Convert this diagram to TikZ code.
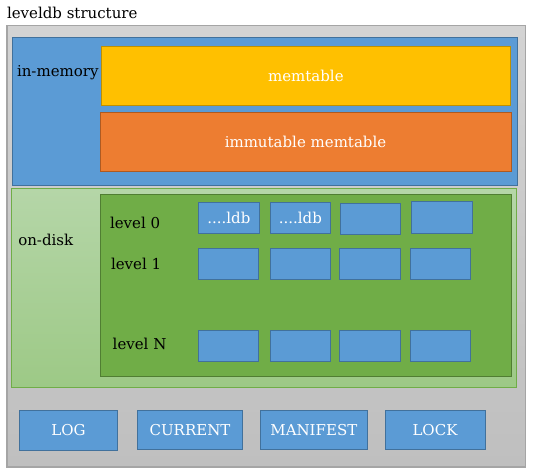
\documentclass[tikz,border=0pt]{standalone}
\usepackage{fontspec}
\setmainfont{DejaVu Serif}
\definecolor{bgtop}{HTML}{D3D3D3}
\definecolor{bgbot}{HTML}{BFBFBF}
\definecolor{bgline}{HTML}{A5A5A5}
\definecolor{blu}{HTML}{5B9BD5}
\definecolor{bluline}{HTML}{41719C}
\definecolor{yel}{HTML}{FFC000}
\definecolor{yelline}{HTML}{BF9000}
\definecolor{ora}{HTML}{ED7D31}
\definecolor{oraline}{HTML}{AE5A21}
\definecolor{lgtop}{HTML}{B5D6A8}
\definecolor{lgbot}{HTML}{9DC986}
\definecolor{lgline}{HTML}{70AD47}
\definecolor{dg}{HTML}{70AD47}
\definecolor{dgline}{HTML}{507E32}
\tikzset{
  panel/.style={rectangle, outer sep=0pt, inner sep=0pt, line width=1pt},
  filebox/.style={panel, fill=blu, draw=bluline, text=white, font=\fontsize{15}{17}\selectfont},
  lbl/.style={anchor=west, inner sep=0pt, outer sep=0pt, font=\fontsize{15}{17}\selectfont},
}
\begin{document}
\begin{tikzpicture}[x=1pt,y=-1pt]
\useasboundingbox (0,0) rectangle (538,474);
\node[lbl] (title) at (7,13) {leveldb structure};
\node[panel, draw=bgline, top color=bgtop, bottom color=bgbot, minimum width=518.5pt, minimum height=441.7pt, line width=1.2pt] (outer) at (266.25,246.15) {};
\node[panel, fill=blu, draw=bluline, minimum width=505.3pt, minimum height=147.7pt] (inmem) at (264.65,111.15) {};
\node[panel, fill=yel, draw=yelline, minimum width=409.7pt, minimum height=59pt, text=white, font=\fontsize{15}{17}\selectfont] (mem) at (305.85,75.8) {memtable};
\node[panel, fill=ora, draw=oraline, minimum width=411pt, minimum height=59.7pt, text=white, font=\fontsize{15}{17}\selectfont] (imm) at (305.5,141.85) {immutable memtable};
\node[lbl] (inmemlbl) at (17,72.5) {in-memory};
\node[panel, draw=lgline, top color=lgtop, bottom color=lgbot, minimum width=505pt, minimum height=199pt] (ondisk) at (264.2,287.5) {};
\node[lbl] (ondisklbl) at (18.3,239.5) {on-disk};
\node[panel, fill=dg, draw=dgline, minimum width=411.7pt, minimum height=181.7pt] (levels) at (305.85,285.15) {};
\node[lbl] (l0) at (110,223) {level 0};
\node[lbl] (l1) at (111,264) {level 1};
\node[lbl] (lN) at (112.7,344) {level N};
% level 0
\node[filebox, minimum width=61.7pt, minimum height=31pt] (a1) at (228.85,217.8) {....ldb};
\node[filebox, minimum width=60.7pt, minimum height=31pt] (a2) at (300.35,217.8) {....ldb};
\node[filebox, minimum width=60.7pt, minimum height=31pt] (a3) at (370.35,218.8) {};
\node[filebox, minimum width=61.7pt, minimum height=32pt] (a4) at (441.85,217.3) {};
% level 1
\node[filebox, minimum width=60.7pt, minimum height=31pt] (b1) at (228.35,263.8) {};
\node[filebox, minimum width=60.7pt, minimum height=31pt] (b2) at (300.35,263.8) {};
\node[filebox, minimum width=61.7pt, minimum height=31pt] (b3) at (369.85,263.8) {};
\node[filebox, minimum width=60.7pt, minimum height=31pt] (b4) at (440.35,263.8) {};
% level N
\node[filebox, minimum width=60.7pt, minimum height=31pt] (c1) at (228.35,345.8) {};
\node[filebox, minimum width=60.7pt, minimum height=31pt] (c2) at (300.35,345.8) {};
\node[filebox, minimum width=61.7pt, minimum height=31pt] (c3) at (369.85,345.8) {};
\node[filebox, minimum width=60.7pt, minimum height=31pt] (c4) at (440.35,345.8) {};
% bottom files
\node[filebox, minimum width=98.4pt, minimum height=40.7pt] (log) at (68.5,430.35) {LOG};
\node[filebox, minimum width=105.4pt, minimum height=39.3pt] (cur) at (190,429.65) {CURRENT};
\node[filebox, minimum width=107.7pt, minimum height=39.3pt] (man) at (313.85,429.65) {MANIFEST};
\node[filebox, minimum width=100pt, minimum height=39.3pt] (lock) at (435,429.65) {LOCK};
\end{tikzpicture}
\end{document}
